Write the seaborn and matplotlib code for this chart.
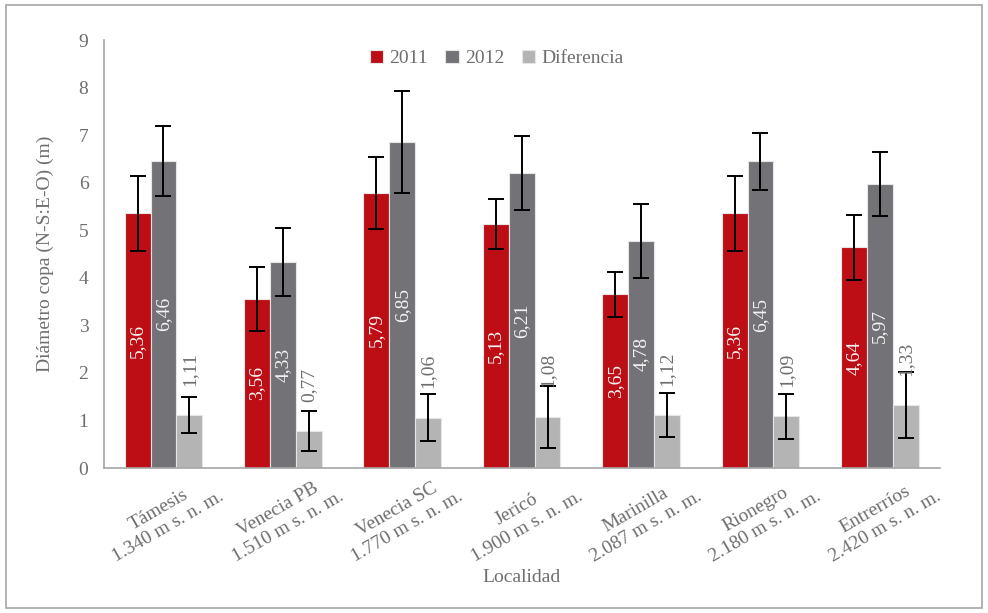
import numpy as np
import pandas as pd
import matplotlib
matplotlib.use("Agg")
import matplotlib.pyplot as plt
from matplotlib.patches import Rectangle
import seaborn as sns

# Crown diameter per locality (m), with error bar half-widths
localidades = ["Támesis\n1.340 m s. n. m.", "Venecia PB\n1.510 m s. n. m.",
               "Venecia SC\n1.770 m s. n. m.", "Jericó\n1.900 m s. n. m.",
               "Marinilla\n2.087 m s. n. m.", "Rionegro\n2.180 m s. n. m.",
               "Entrerríos\n2.420 m s. n. m."]
series = ["2011", "2012", "Diferencia"]
v2011 = [5.36, 3.56, 5.79, 5.13, 3.65, 5.36, 4.64]
v2012 = [6.46, 4.33, 6.85, 6.21, 4.78, 6.45, 5.97]
vdif = [1.11, 0.77, 1.06, 1.08, 1.12, 1.09, 1.33]
e2011 = [0.79, 0.67, 0.76, 0.52, 0.48, 0.79, 0.68]
e2012 = [0.74, 0.72, 1.07, 0.78, 0.78, 0.60, 0.68]
edif = [0.38, 0.42, 0.50, 0.65, 0.46, 0.47, 0.69]

values = [v2011, v2012, vdif]
errors = [e2011, e2012, edif]
colors = ["#BE0E15", "#737277", "#B4B4B4"]
text_gray = "#6E6E6E"
axis_gray = "#A6A6A6"

df = pd.DataFrame({
    "Localidad": [loc for s in series for loc in localidades],
    "Serie": [s for s in series for _ in localidades],
    "Valor": [v for vals in values for v in vals],
})

sns.set_style("white")
plt.rcParams["font.family"] = ["Liberation Serif", "DejaVu Serif"]

fig = plt.figure(figsize=(9.88, 6.13), dpi=100)
ax = fig.add_axes([0.105, 0.2365, 0.846, 0.6982])

sns.barplot(data=df, x="Localidad", y="Valor", hue="Serie", order=localidades,
            hue_order=series, palette=colors, width=0.65, errorbar=None,
            edgecolor="#E6E6E6", linewidth=0.8, saturation=1, ax=ax)

bar_groups = list(ax.containers)

# error bars and value labels on each bar
for k, cont in enumerate(bar_groups):
    xs = [p.get_x() + p.get_width() / 2 for p in cont.patches]
    ax.errorbar(xs, values[k], yerr=errors[k], fmt="none", ecolor="black",
                elinewidth=1.4, capsize=6, capthick=1.4, zorder=5)
    for x, v in zip(xs, values[k]):
        txt = f"{v:.2f}".replace(".", ",")
        if k < 2:
            ax.text(x, v / 2, txt, rotation=90, ha="center", va="center",
                    color="#F4F4F4", fontsize=14, zorder=6)
        else:
            ax.annotate(txt, (x, v), xytext=(0, 21), textcoords="offset points",
                        rotation=90, ha="center", va="bottom", color=text_gray,
                        fontsize=14, zorder=6)

ax.set_ylim(0, 9)
ax.set_xlim(-0.5, 6.5)
ax.set_yticks(range(0, 10))
ax.tick_params(axis="y", which="major", direction="out", length=5, width=1,
               color=axis_gray, labelcolor=text_gray, labelsize=14, pad=6)
ax.set_xticks(range(len(localidades)))
ax.set_xticklabels(localidades, rotation=30, ha="center", fontsize=14,
                   color=text_gray, linespacing=1.25)
ax.tick_params(axis="x", which="major", length=0, pad=2)
ax.set_xticks(np.arange(-0.5, 7, 1), minor=True)
ax.tick_params(axis="x", which="minor", direction="out", length=6, width=1,
               color=axis_gray)

for side in ["top", "right"]:
    ax.spines[side].set_visible(False)
for side in ["left", "bottom"]:
    ax.spines[side].set_color(axis_gray)
    ax.spines[side].set_linewidth(1.2)

ax.set_xlabel("Localidad", fontsize=14, color=text_gray, labelpad=2)
ax.set_ylabel("Diámetro copa (N-S:E-O) (m)", fontsize=14, color=text_gray,
              labelpad=18)

leg = ax.legend(loc="upper center", bbox_to_anchor=(0.47, 1.018), ncol=3,
                frameon=False, fontsize=14, handlelength=0.7, handleheight=0.7,
                handletextpad=0.3, columnspacing=0.9, labelcolor=text_gray)

fig.add_artist(Rectangle((0.006, 0.008), 0.988, 0.984, transform=fig.transFigure,
                         fill=False, edgecolor=axis_gray, linewidth=1.2))

fig.savefig("out.png", dpi=100)
